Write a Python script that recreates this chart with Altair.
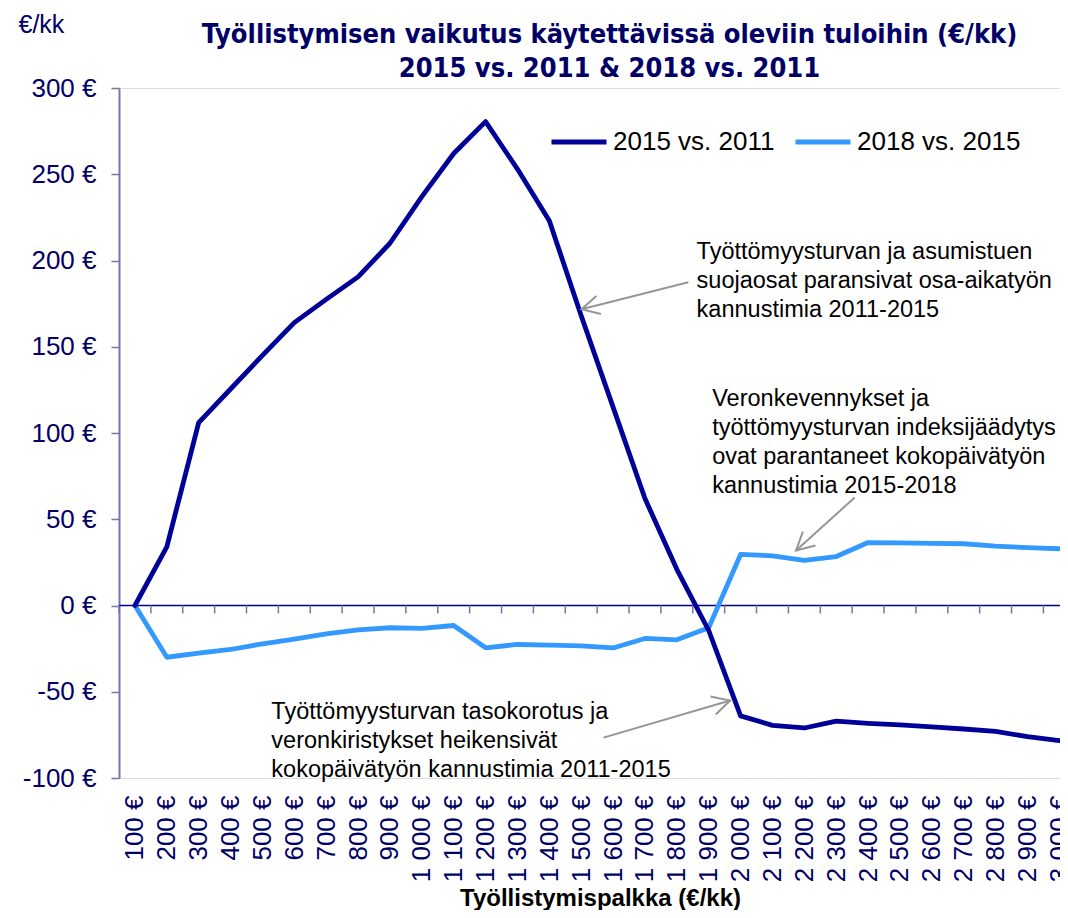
import math
import altair as alt
import pandas as pd

# ---------------- data ----------------
x_labels = ["100 €", "200 €", "300 €", "400 €", "500 €", "600 €", "700 €", "800 €", "900 €",
            "1 000 €", "1 100 €", "1 200 €", "1 300 €", "1 400 €", "1 500 €", "1 600 €",
            "1 700 €", "1 800 €", "1 900 €", "2 000 €", "2 100 €", "2 200 €", "2 300 €",
            "2 400 €", "2 500 €", "2 600 €", "2 700 €", "2 800 €", "2 900 €", "3 000 €"]

v_2015_vs_2011 = [0, 34, 106, 125.5, 145, 164, 177.5, 190.5, 210, 237, 262, 280.5, 253, 223,
                  168, 115, 62, 21, -14.5, -64, -69.5, -71, -67, -68.3, -69.2, -70.4, -71.6,
                  -73, -76, -78.3]
v_2018_vs_2015 = [0, -30, -27.6, -25.5, -22.2, -19.5, -16.4, -14.1, -12.9, -13.3, -11.6, -24.5,
                  -22.6, -23, -23.4, -24.6, -19.1, -19.9, -12.9, 29.6, 28.8, 26.1, 28.4, 36.5,
                  36.3, 36, 35.8, 34.4, 33.6, 32.9]
series_names = ["2015 vs. 2011", "2018 vs. 2015"]
y_ticks = [-100, -50, 0, 50, 100, 150, 200, 250, 300]

title_lines = ["Työllistymisen vaikutus käytettävissä oleviin tuloihin (€/kk)",
               "2015 vs. 2011 & 2018 vs. 2011"]
x_title = "Työllistymispalkka (€/kk)"
y_title = "€/kk"

ann_texts = [
    "Työttömyysturvan ja asumistuen\nsuojaosat paransivat osa-aikatyön\nkannustimia 2011-2015",
    "Veronkevennykset ja\ntyöttömyysturvan indeksijäädytys\novat parantaneet kokopäivätyön\nkannustimia 2015-2018",
    "Työttömyysturvan tasokorotus ja\nveronkiristykset heikensivät\nkokopäivätyön kannustimia 2011-2015",
]
ann_x = [17.62, 18.11, 4.28]
ann_y = [201.1, 115.4, -65.7]
arrow_x0 = [17.36, 22.58, 14.70]
arrow_y0 = [187.4, 62.6, -76.6]
arrow_x1 = [14.01, 20.74, 18.67]
arrow_y1 = [171.7, 31.9, -55.1]

# ---------------- styling ----------------
FONT = "Liberation Sans"
TITLE_FONT = "Liberation Sans Narrow, Arial Narrow, DejaVu Sans Condensed, sans-serif"
NAVY = "#000066"
AXC = "#7676ab"
DARK = "#000099"
LIGHT = "#3399FF"
GREY = "#969696"
W, H = 941, 690
X_DOM = [-0.5, 29.02]
Y_DOM = [-100, 300]
PX_X = W / (X_DOM[1] - X_DOM[0])
PX_Y = H / (Y_DOM[1] - Y_DOM[0])

# ---------------- tables ----------------
n = len(x_labels)
lines_df = pd.DataFrame({
    "idx": list(range(n)) * 2,
    "value": v_2015_vs_2011 + v_2018_vs_2015,
    "series": [series_names[0]] * n + [series_names[1]] * n,
})
ticks_df = pd.DataFrame({"b": [i - 0.5 for i in range(n)], "z": [0] * n})
zero_df = pd.DataFrame({"z": [0]})
ann_df = pd.DataFrame({"ax": ann_x, "ay": ann_y, "t": ann_texts})
arrow_df = pd.DataFrame({"x0": arrow_x0, "y0": arrow_y0, "x1": arrow_x1, "y1": arrow_y1})
arrow_df["ang"] = [
    math.degrees(math.atan2(-(b1 - b0) * PX_Y, (a1 - a0) * PX_X)) % 360
    for a0, b0, a1, b1 in zip(arrow_x0, arrow_y0, arrow_x1, arrow_y1)
]

label_expr = "[" + ",".join("'" + s + "'" for s in x_labels) + "][datum.value]"

xscale = alt.Scale(domain=X_DOM, nice=False, zero=False)
yscale = alt.Scale(domain=Y_DOM, nice=False, zero=False)

xaxis = alt.Axis(values=list(range(n)), labelExpr=label_expr, labelAngle=270,
                 labelAlign="right", labelBaseline="middle", labelFontSize=26,
                 labelColor=NAVY, labelFont=FONT, labelPadding=17, labelFlush=False,
                 labelOverlap=False, labelBound=False, ticks=False, tickSize=0,
                 domain=False, grid=False, titleFontSize=24, titleFont=FONT,
                 titleFontWeight="bold", titleColor="black", titleX=481, titleY=127,
                 titleAlign="center", titleBaseline="alphabetic", titleAngle=0)
yaxis = alt.Axis(values=y_ticks, labelExpr="datum.value + ' €'", labelFontSize=26,
                 labelColor=NAVY, labelFont=FONT, labelPadding=15, tickSize=8,
                 tickColor=AXC, tickWidth=1.5, domainColor=AXC, domainWidth=2, grid=False,
                 titleAngle=0, titleX=-101, titleY=-56, titleAlign="left",
                 titleBaseline="alphabetic", titleFontSize=25, titleFontWeight="normal",
                 titleColor=NAVY, titleFont=FONT)


def X(f):
    return alt.X(f, type="quantitative", scale=xscale, axis=xaxis, title=x_title)


def Y(f):
    return alt.Y(f, type="quantitative", scale=yscale, axis=yaxis, title=y_title)


color = alt.Color("series:N",
                  scale=alt.Scale(domain=series_names, range=[DARK, LIGHT]),
                  legend=alt.Legend(orient="none", legendX=430, legendY=24,
                                    direction="horizontal", symbolType="stroke",
                                    symbolSize=3025, symbolStrokeWidth=5,
                                    labelFontSize=26, labelColor="black", labelFont=FONT,
                                    columnPadding=10, labelOffset=4, padding=0,
                                    title=None, labelLimit=0))

zero_rule = alt.Chart(zero_df).mark_rule(color="#000080", strokeWidth=1.5).encode(y=Y("z"))
zero_ticks = alt.Chart(ticks_df).mark_rule(color=AXC, strokeWidth=1.5, y2Offset=8).encode(
    x=X("b"), y=Y("z"), y2="z:Q")

light = alt.Chart(lines_df).transform_filter(
    alt.datum.series == series_names[1]).mark_line(
    strokeWidth=4.8, strokeCap="round", strokeJoin="round").encode(
    x=X("idx"), y=Y("value"), color=color)
dark = alt.Chart(lines_df).transform_filter(
    alt.datum.series == series_names[0]).mark_line(
    strokeWidth=4.8, strokeCap="round", strokeJoin="round").encode(
    x=X("idx"), y=Y("value"), color=color)

arrows = alt.Chart(arrow_df).mark_rule(color=GREY, strokeWidth=2).encode(
    x=X("x0"), y=Y("y0"), x2="x1:Q", y2="y1:Q")
heads = alt.Chart(arrow_df).mark_point(
    shape="M -1 -0.53 L 0 0 L -1 0.53", size=1250, filled=False, stroke=GREY,
    strokeWidth=2, opacity=1).encode(
    x=X("x1"), y=Y("y1"), angle=alt.Angle("ang:Q", scale=None))

texts = alt.Chart(ann_df).mark_text(
    align="left", baseline="alphabetic", fontSize=23.5, lineHeight=29, font=FONT,
    color="black", lineBreak="\n").encode(x=X("ax"), y=Y("ay"), text="t:N")

chart = alt.layer(zero_rule, zero_ticks, light, dark, arrows, heads, texts).properties(
    width=W, height=H,
    title=alt.TitleParams(text=title_lines, fontSize=27, font=TITLE_FONT,
                          fontWeight="bold", color=NAVY, anchor="middle", frame="group",
                          offset=0, dx=20, dy=71, baseline="top", lineHeight=34),
    autosize=alt.AutoSizeParams(type="none"),
    padding={"left": 111, "top": 80, "right": 0, "bottom": 132},
).configure_view(stroke=None).configure(background="white")

chart.save("out.html", embed_options={"renderer": "svg", "actions": False})
